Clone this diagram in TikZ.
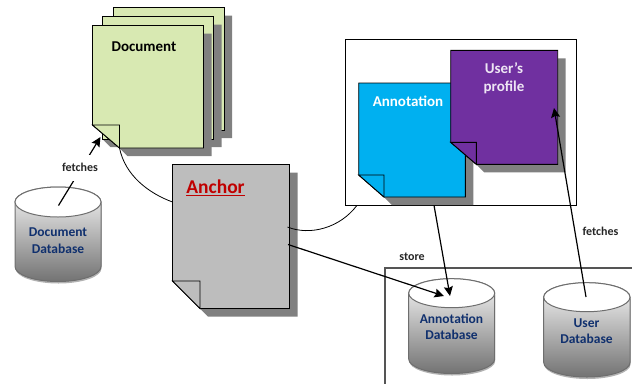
\documentclass[tikz,border=0pt]{standalone}
\usepackage{fontspec}
\setmainfont{Carlito}
\usetikzlibrary{arrows.meta}
\definecolor{docgreen}{HTML}{D8E9B2}
\definecolor{anchorgray}{HTML}{BDBDBD}
\definecolor{annblue}{HTML}{00B0F0}
\definecolor{userpurple}{HTML}{7030A0}
\definecolor{pageshadow}{HTML}{808080}
\definecolor{dbblue}{HTML}{10306E}
\definecolor{anchorred}{HTML}{C00000}
\definecolor{dbline}{HTML}{6E6E6E}
\definecolor{storeline}{HTML}{555555}
\tikzset{
  pageline/.style={draw=black,line width=0.9pt,line join=miter},
  lbl/.style={font=\bfseries\fontsize{#1}{#1}\selectfont,inner sep=0pt,align=center},
  lbl/.default=14,
  smalllbl/.style={font=\bfseries\fontsize{12}{13}\selectfont,inner sep=0pt,text=black!85},
  dblbl/.style={font=\bfseries\fontsize{13.5}{16.5}\selectfont,text=dbblue,inner sep=0pt,align=center},
  link/.style={draw=black,line width=1.2pt},
  thinlink/.style={draw=black,line width=0.8pt},
  tip/.style={link,-{Stealth[length=9.5pt,width=9pt,inset=1.5pt]}},
  framebox/.style={draw=black,line width=0.9pt,fill=white},
}
% name, left, top, right, bottom, fold x, fold y, fill
\newcommand{\notepage}[8]{%
  \fill[pageshadow] (#6,#5) -- ({#6+8},{#5+8}) -- ({#4+8},{#5+8}) -- ({#4+8},{#3+8}) -- (#4,{#3+8}) -- (#4,#5) -- cycle;
  \path[pageline,fill=#8] (#2,#3) -- (#4,#3) -- (#4,#5) -- (#6,#5) -- (#2,#7) -- cycle;
  \path[pageline,fill=#8] (#2,#7) -- (#6,#7) -- (#6,#5) -- cycle;
  \coordinate (#1corner) at (#6,#5);
}
% name, left, right, top y, ellipse ry, bottom y
\newcommand{\dbcyl}[6]{%
  \fill[black!30] ({#2+0.5},{#4+#5+2}) -- ({#2+0.5},{#6-#5+2}) arc[start angle=180,end angle=0,x radius={(#3-#2)/2},y radius=#5] -- ({#3+0.5},{#4+#5+2}) -- cycle;
  \path[draw=dbline,line width=1pt,top color=black!3,bottom color=black!55]
    (#2,{#4+#5}) -- (#2,{#6-#5}) arc[start angle=180,end angle=0,x radius={(#3-#2)/2},y radius=#5]
    -- (#3,{#4+#5}) arc[start angle=0,end angle=-180,x radius={(#3-#2)/2},y radius=#5] -- cycle;
  \path[draw=dbline,line width=1pt,fill=white] ({(#2+#3)/2},{#4+#5}) ellipse[x radius={(#3-#2)/2},y radius=#5];
}
\begin{document}
\begin{tikzpicture}[x=1pt,y=-1pt]
\useasboundingbox (0,0) rectangle (632,384);
% frames
\node[framebox,minimum width=231pt,minimum height=166pt,inner sep=0pt] (profileframe) at (461.2,122.3) {};
\path[draw=storeline,line width=1.1pt] (632,268) -- (385,268) -- (385,384);
% document stack
\notepage{docC}{113.5}{7.5}{224}{130}{113.5}{130}{docgreen}
\notepage{docB}{102.5}{16.5}{213.5}{139}{102.5}{139}{docgreen}
\notepage{doc}{92.5}{25.5}{203.5}{148}{119.5}{125}{docgreen}
\node[lbl=15] (doclabel) at (144,47) {Document};
% anchor
\notepage{anc}{172.5}{164.5}{289.5}{308.5}{200}{281}{anchorgray}
\node[lbl=19.5,text=anchorred] (anclabel) at (215.5,187.5) {\underline{Anchor}};
\coordinate (ancL) at (172.5,202);
\coordinate (ancR1) at (287.5,227);
\coordinate (ancR2) at (288,244.5);
% annotation and profile
\notepage{ann}{358.7}{83}{465.3}{197}{384}{175}{annblue}
\node[lbl=15,text=white] (annlabel) at (408,101.5) {Annotation};
\notepage{usr}{450.7}{50.3}{557.7}{164.3}{476.3}{142.3}{userpurple}
\node[lbl=15,text=white!88!userpurple] (usrlabel) at (504,78) {User’s\\[2.5pt]profile};
\coordinate (frameBL) at (357,205.3);
\coordinate (frameA) at (434,205.3);
\coordinate (usrR) at (554,108);
\coordinate (docTip) at (100.5,137);
% databases
\dbcyl{ddb}{15}{101}{187}{15}{281.5}
\node[dblbl] (ddblabel) at (58,240.5) {Document\\Database};
\dbcyl{adb}{408.7}{494.7}{278.7}{14.5}{373.5}
\node[dblbl] (adblabel) at (451.5,327) {Annotation\\Database};
\dbcyl{udb}{543.7}{630}{282.7}{14.5}{377}
\node[dblbl] (udblabel) at (586.5,331) {User\\Database};
\coordinate (ddbA) at (58.5,205.5);
\coordinate (adbA) at (444,296);
\coordinate (adbB) at (450,296);
\coordinate (udbA) at (586,297);
% connectors
\draw[tip] (ddbA) -- (docTip);
\node[smalllbl,fill=white,minimum width=40pt,minimum height=26pt] (fetchA) at (80,167.5) {fetches};
\draw[thinlink] (doccorner) .. controls (125,175) and (148,193) .. (ancL);
\draw[thinlink] (ancR1) .. controls (310,236) and (340,228) .. (frameBL);
\draw[tip] (ancR2) -- (adbA);
\draw[tip] (frameA) -- (adbB);
\draw[tip] (udbA) -- (usrR);
\node[smalllbl] (fetchB) at (600.5,231) {fetches};
\node[smalllbl] (store) at (412,257) {store};
\end{tikzpicture}
\end{document}
